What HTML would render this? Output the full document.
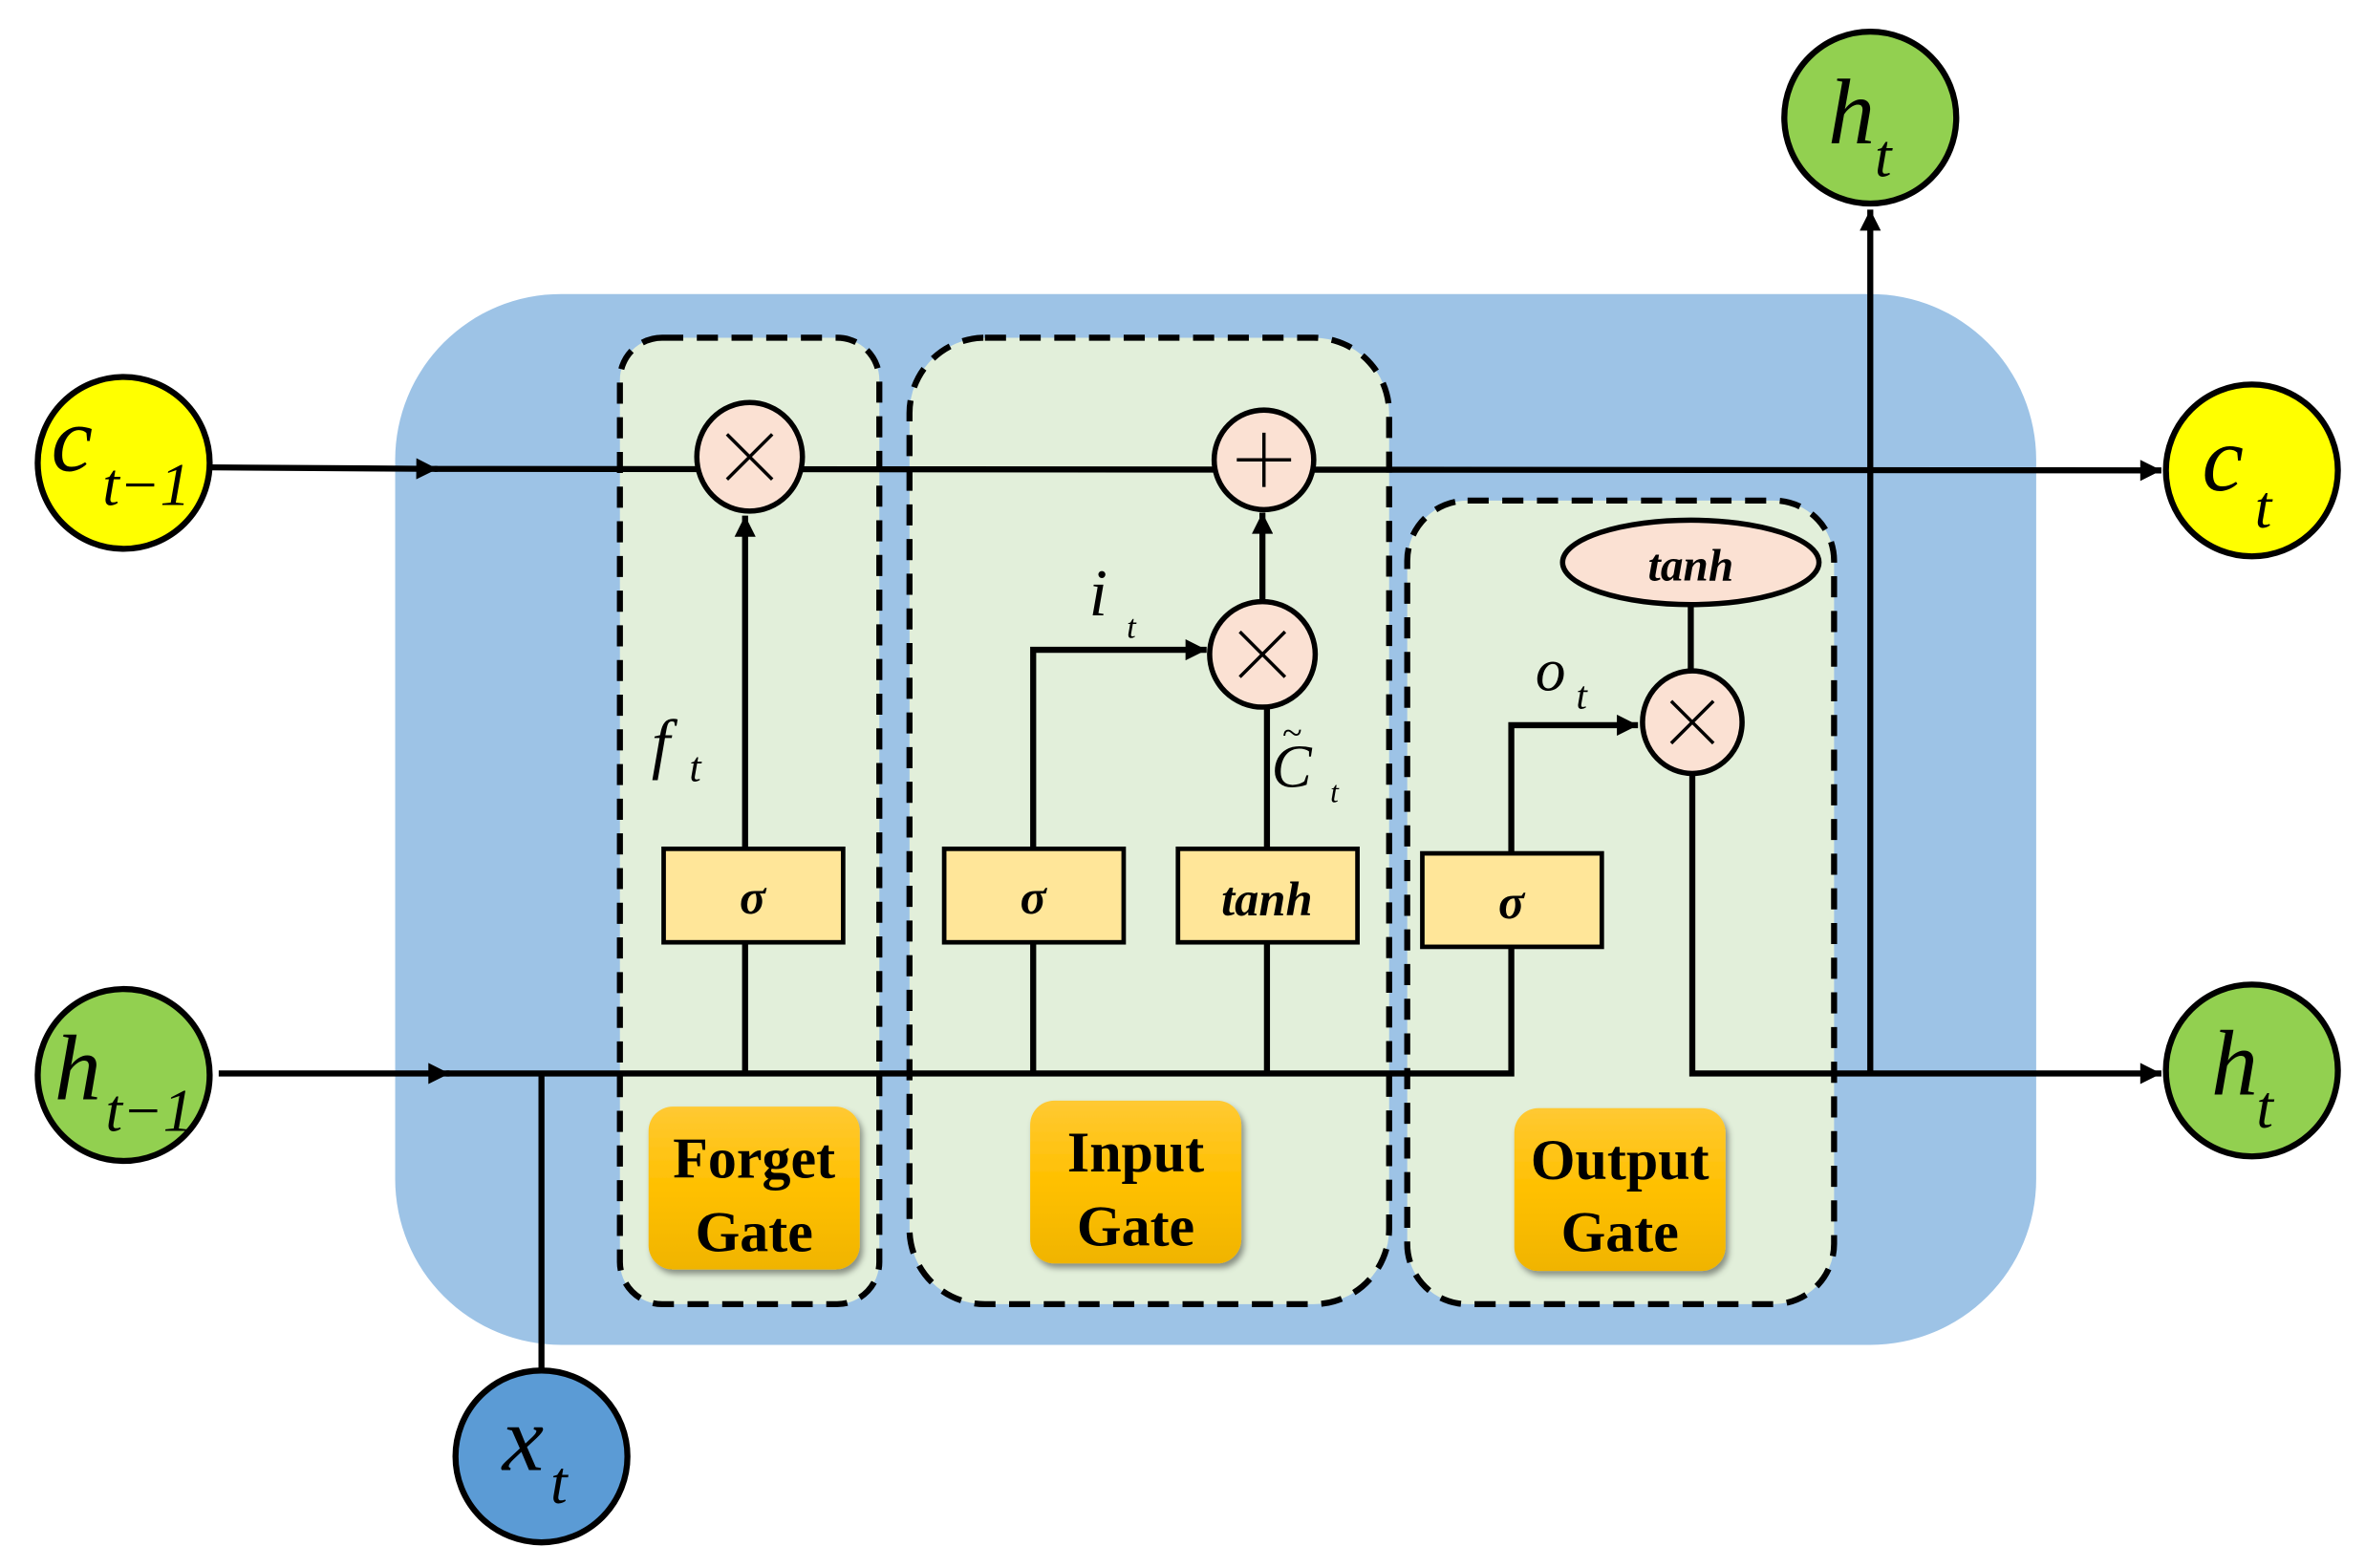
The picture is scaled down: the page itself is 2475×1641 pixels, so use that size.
<!DOCTYPE html>
<html><head><meta charset="utf-8"><style>html,body{margin:0;padding:0;background:#fff;}svg{display:block}</style></head>
<body>
<svg width="2475" height="1641" viewBox="0 0 1568 1040" preserveAspectRatio="none" xmlns="http://www.w3.org/2000/svg" font-family="'Liberation Serif', serif">
<defs>
<marker id="a" markerWidth="10" markerHeight="10" refX="9" refY="5" orient="auto" markerUnits="userSpaceOnUse"><path d="M0,0 L14,5 L0,10 Z" fill="#000" transform="scale(0.7,1)"/></marker>
<marker id="ah" viewBox="0 0 10 10" markerWidth="16" markerHeight="14" refX="10" refY="5" orient="auto" markerUnits="userSpaceOnUse"><path d="M0,0 L10,5 L0,10 Z" fill="#000"/></marker>
<linearGradient id="og" x1="0" y1="0" x2="0" y2="1"><stop offset="0" stop-color="#ffc933"/><stop offset="0.5" stop-color="#ffc000"/><stop offset="1" stop-color="#f0b400"/></linearGradient>
<filter id="sh"><feDropShadow dx="2" dy="3" stdDeviation="2" flood-opacity="0.4"/></filter>
</defs>
<rect x="262" y="195" width="1088" height="697" rx="110" fill="#9dc3e6"/>
<g fill="#e2efda" stroke="#000" stroke-width="4" stroke-dasharray="14,9">
<rect x="411" y="224" width="172" height="641" rx="28"/>
<rect x="603" y="224" width="318" height="641" rx="50"/>
<rect x="933" y="332" width="283" height="533" rx="40"/>
</g>
<g stroke="#000" stroke-width="4" fill="none">
<line x1="140" y1="310" x2="290" y2="311" marker-end="url(#ah)"/>
<line x1="288" y1="311" x2="1433" y2="312" marker-end="url(#ah)"/>
<line x1="145" y1="712" x2="298" y2="712" marker-end="url(#ah)"/>
<polyline points="296,712 1002,712 1002,481 1086,481" marker-end="url(#ah)"/>
<line x1="359" y1="712" x2="359" y2="910"/>
<line x1="494" y1="712" x2="494" y2="342" marker-end="url(#ah)"/>
<polyline points="685,712 685,431 800,431" marker-end="url(#ah)"/>
<line x1="840" y1="712" x2="840" y2="468"/>
<line x1="837" y1="400" x2="837" y2="340" marker-end="url(#ah)"/>
<line x1="1121" y1="400" x2="1121" y2="446"/>
<polyline points="1122,512 1122,712 1433,712" marker-end="url(#ah)"/>
<line x1="1240" y1="712" x2="1240" y2="139" marker-end="url(#ah)"/>
</g>
<g fill="#fbe1d3" stroke="#000" stroke-width="3.5">
<ellipse cx="497" cy="303" rx="35" ry="36"/>
<ellipse cx="838" cy="305" rx="33" ry="33"/>
<ellipse cx="837" cy="434" rx="35" ry="35"/>
<ellipse cx="1122" cy="479" rx="33" ry="34"/>
<ellipse cx="1121" cy="373" rx="85" ry="28"/>
</g>
<g stroke="#000" stroke-width="2.2">
<line x1="482" y1="288" x2="512" y2="318"/><line x1="512" y1="288" x2="482" y2="318"/>
<line x1="838" y1="287" x2="838" y2="323"/><line x1="820" y1="305" x2="856" y2="305"/>
<line x1="822" y1="419" x2="852" y2="449"/><line x1="852" y1="419" x2="822" y2="449"/>
<line x1="1108" y1="465" x2="1136" y2="493"/><line x1="1136" y1="465" x2="1108" y2="493"/>
</g>
<g fill="#ffe699" stroke="#000" stroke-width="3">
<rect x="440" y="563" width="119" height="62"/>
<rect x="626" y="563" width="119" height="62"/>
<rect x="781" y="563" width="119" height="62"/>
<rect x="943" y="566" width="119" height="62"/>
</g>
<g font-weight="bold" font-style="italic" font-size="32" text-anchor="middle">
<text x="499" y="606">σ</text><text x="685" y="606">σ</text><text x="1002" y="609">σ</text>
<text x="840" y="607">tanh</text><text x="1121" y="385" font-size="30">tanh</text>
</g>
<g fill="url(#og)" filter="url(#sh)">
<rect x="430" y="734" width="140" height="108" rx="16"/>
<rect x="683" y="730" width="140" height="108" rx="16"/>
<rect x="1004" y="735" width="140" height="108" rx="16"/>
</g>
<g font-weight="bold" font-size="38" text-anchor="middle">
<text x="500" y="781">Forget</text><text x="500" y="830">Gate</text>
<text x="753" y="777">Input</text><text x="753" y="826">Gate</text>
<text x="1074" y="782">Output</text><text x="1074" y="830">Gate</text>
</g>
<g font-style="italic" font-size="44">
<text x="432" y="508">f</text><text x="457" y="518" font-size="28">t</text>
<text x="722" y="408">i</text><text x="747" y="423" font-size="22">t</text>
<text x="843" y="522" font-size="40">C</text><text x="850" y="494" font-size="24">~</text><text x="882" y="532" font-size="20">t</text>
<text x="1018" y="458" font-size="40">o</text><text x="1045" y="470" font-size="26">t</text>
</g>
<g stroke="#000" stroke-width="4">
<ellipse cx="82" cy="307" rx="57" ry="57" fill="#ffff00"/>
<ellipse cx="82" cy="713" rx="57" ry="57" fill="#92d050"/>
<ellipse cx="1493" cy="312" rx="57" ry="57" fill="#ffff00"/>
<ellipse cx="1493" cy="710" rx="57" ry="57" fill="#92d050"/>
<ellipse cx="1240" cy="78" rx="57" ry="57" fill="#92d050"/>
<ellipse cx="359" cy="966" rx="57" ry="57" fill="#5b9bd5"/>
</g>
<g font-style="italic" font-size="62">
<text x="34" y="312">c</text><text x="68" y="335" font-size="40">t−1</text>
<text x="36" y="729">h</text><text x="70" y="750" font-size="40">t−1</text>
<text x="1460" y="325">c</text><text x="1495" y="350" font-size="40">t</text>
<text x="1466" y="726">h</text><text x="1496" y="748" font-size="40">t</text>
<text x="1212" y="95">h</text><text x="1243" y="117" font-size="40">t</text>
<text x="333" y="975">x</text><text x="365" y="997" font-size="40">t</text>
</g>
</svg>
</body></html>
